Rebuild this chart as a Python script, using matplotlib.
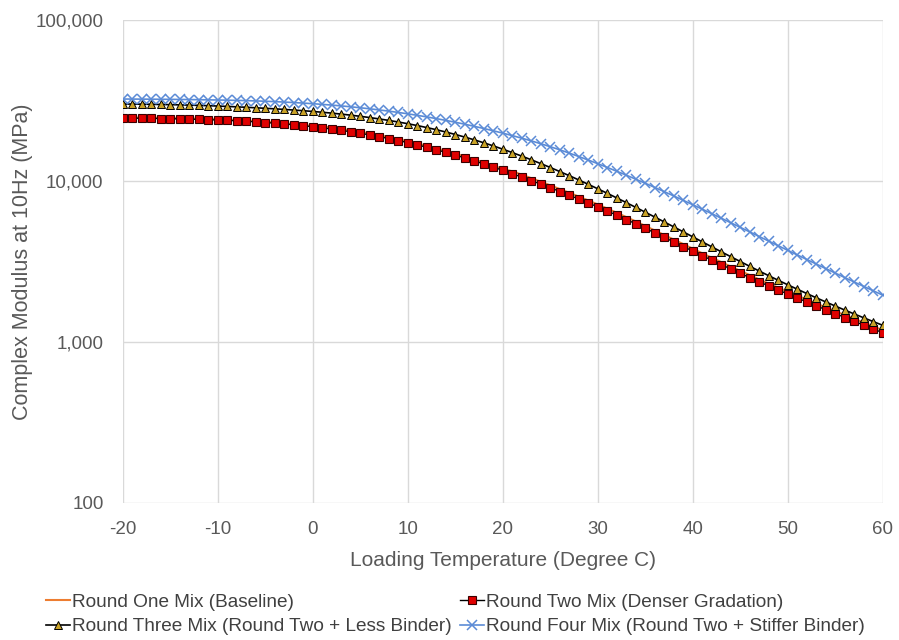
#!/usr/bin/env python3
"""complex modulus master curves vs loading temperature"""

import numpy as np
import matplotlib

matplotlib.use("Agg")
import matplotlib.pyplot as plt
from matplotlib.ticker import FuncFormatter

#
# DATA (MPa at 10Hz, one point per degree)
#
temperature_c = list(range(-20, 61))

round_one_mpa = [
    24850, 24820, 24790, 24730, 24680, 24620, 24550, 24470, 24390, 24290,
    24170, 24040, 23900, 23720, 23530, 23320, 23100, 22850, 22560, 22270,
    21950, 21810, 21430, 21040, 20610, 20180, 19710, 19220, 18710, 18190,
    17650, 17090, 16520, 15940, 15350, 14760, 14180, 13590, 13010, 12430,
    11860, 11480, 10930, 10400, 9880, 9390, 8900, 8440, 7990, 7560,
    7140, 6730, 6340, 5960, 5600, 5250, 4920, 4610, 4320, 4050,
    3790, 3550, 3330, 3130, 2940, 2760, 2600, 2440, 2300, 2170,
    2050, 1940, 1830, 1730, 1640, 1550, 1470, 1390, 1320, 1250,
    1180,
]

round_two_mpa = [
    24600, 24570, 24540, 24490, 24440, 24380, 24310, 24230, 24150, 24050,
    23930, 23800, 23660, 23490, 23300, 23090, 22870, 22620, 22340, 22050,
    21730, 21380, 21010, 20630, 20210, 19780, 19320, 18840, 18340, 17830,
    17300, 16750, 16200, 15630, 15050, 14470, 13900, 13320, 12750, 12190,
    11630, 11090, 10560, 10050, 9550, 9070, 8600, 8150, 7715, 7300,
    6900, 6507, 6126, 5760, 5410, 5075, 4758, 4459, 4177, 3913,
    3665, 3434, 3220, 3021, 2837, 2667, 2508, 2362, 2226, 2101,
    1984, 1875, 1772, 1676, 1585, 1500, 1419, 1343, 1271, 1204,
    1140,
]

round_three_mpa = [
    30080, 30050, 30010, 29950, 29880, 29810, 29720, 29610, 29500, 29370,
    29220, 29060, 28890, 28700, 28500, 28290, 28070, 27840, 27590, 27330,
    27040, 26730, 26400, 26030, 25640, 25220, 24770, 24290, 23780, 23250,
    22680, 22090, 21470, 20820, 20140, 19450, 18730, 18000, 17260, 16510,
    15750, 15000, 14260, 13530, 12810, 12120, 11430, 10780, 10140, 9524,
    8935, 8373, 7841, 7331, 6848, 6392, 5963, 5559, 5180, 4825,
    4492, 4182, 3895, 3628, 3382, 3156, 2946, 2754, 2576, 2413,
    2263, 2125, 1997, 1879, 1771, 1670, 1577, 1491, 1411, 1337,
    1268,
]

round_four_mpa = [
    32310, 32280, 32260, 32230, 32190, 32160, 32110, 32060, 32000, 31930,
    31860, 31780, 31680, 31570, 31440, 31290, 31120, 30930, 30710, 30480,
    30210, 29920, 29610, 29270, 28900, 28500, 28080, 27630, 27160, 26660,
    26130, 25580, 25000, 24400, 23790, 23160, 22520, 21850, 21180, 20500,
    19820, 19130, 18440, 17740, 17030, 16320, 15610, 14890, 14180, 13480,
    12800, 12130, 11480, 10860, 10250, 9670, 9110, 8576, 8064, 7577,
    7112, 6673, 6258, 5867, 5495, 5147, 4820, 4513, 4225, 3956,
    3704, 3469, 3250, 3044, 2853, 2675, 2509, 2354, 2211, 2077,
    1951,
]

series_names = [
    "Round One Mix (Baseline)",
    "Round Two Mix (Denser Gradation)",
    "Round Three Mix (Round Two + Less Binder)",
    "Round Four Mix (Round Two + Stiffer Binder)",
]

x_ticks = [-20, -10, 0, 10, 20, 30, 40, 50, 60]
y_ticks = [100, 1000, 10000, 100000]

#
# FIGURE
#
plt.rcParams["font.family"] = ["Liberation Sans", "DejaVu Sans"]
plt.rcParams["axes.unicode_minus"] = False
TEXT_GREY = "#595959"
GRID_GREY = "#d9d9d9"

fig = plt.figure(figsize=(8.99, 6.40), dpi=100)
ax = fig.add_axes([0.1368, 0.2141, 0.8454, 0.7546])

h1, = ax.plot(temperature_c, round_one_mpa, color="#ed7d31", linewidth=1.5, label=series_names[0])
h2, = ax.plot(
    temperature_c, round_two_mpa, color="black", linewidth=1.0,
    marker="s", markersize=6, markerfacecolor="#e00000", markeredgecolor="#3a0000",
    markeredgewidth=0.8, label=series_names[1],
)
h3, = ax.plot(
    temperature_c, round_three_mpa, color="black", linewidth=1.2,
    marker="^", markersize=5.5, markerfacecolor="#c9a227", markeredgecolor="black",
    markeredgewidth=0.7, label=series_names[2],
)
h4, = ax.plot(
    temperature_c, round_four_mpa, color="#5b8bd6", linewidth=1.2,
    marker="x", markersize=6.5, markeredgewidth=1.1, label=series_names[3],
)

ax.set_yscale("log")
ax.set_xlim(-20, 60)
ax.set_ylim(100, 100000)
ax.set_xticks(x_ticks)
ax.set_yticks(y_ticks)
ax.yaxis.set_minor_locator(matplotlib.ticker.NullLocator())
ax.yaxis.set_major_formatter(FuncFormatter(lambda v, pos: "{:,.0f}".format(v)))

ax.grid(True, color=GRID_GREY, linewidth=1.0)
ax.set_axisbelow(True)
for side in ax.spines:
    ax.spines[side].set_visible(False)
ax.tick_params(length=0, labelsize=13.5, labelcolor=TEXT_GREY)
ax.tick_params(axis="x", pad=13)
ax.tick_params(axis="y", pad=14)

ax.set_xlabel("Loading Temperature (Degree C)", fontsize=15, color=TEXT_GREY, labelpad=9)
ax.set_ylabel("Complex Modulus at 10Hz (MPa)", fontsize=15.5, color=TEXT_GREY, labelpad=2)

# legend rows: One, Two / Three, Four (matplotlib fills columns first)
leg = fig.legend(
    [h1, h3, h2, h4],
    [series_names[0], series_names[2], series_names[1], series_names[3]],
    ncol=2, loc="upper left", bbox_to_anchor=(0.043, 0.085),
    frameon=False, fontsize=13.7, handlelength=1.25, handletextpad=0.1,
    columnspacing=0.45, labelspacing=0.4, borderaxespad=0,
)
for t in leg.get_texts():
    t.set_color("#404040")

fig.savefig("out.png", dpi=100)
